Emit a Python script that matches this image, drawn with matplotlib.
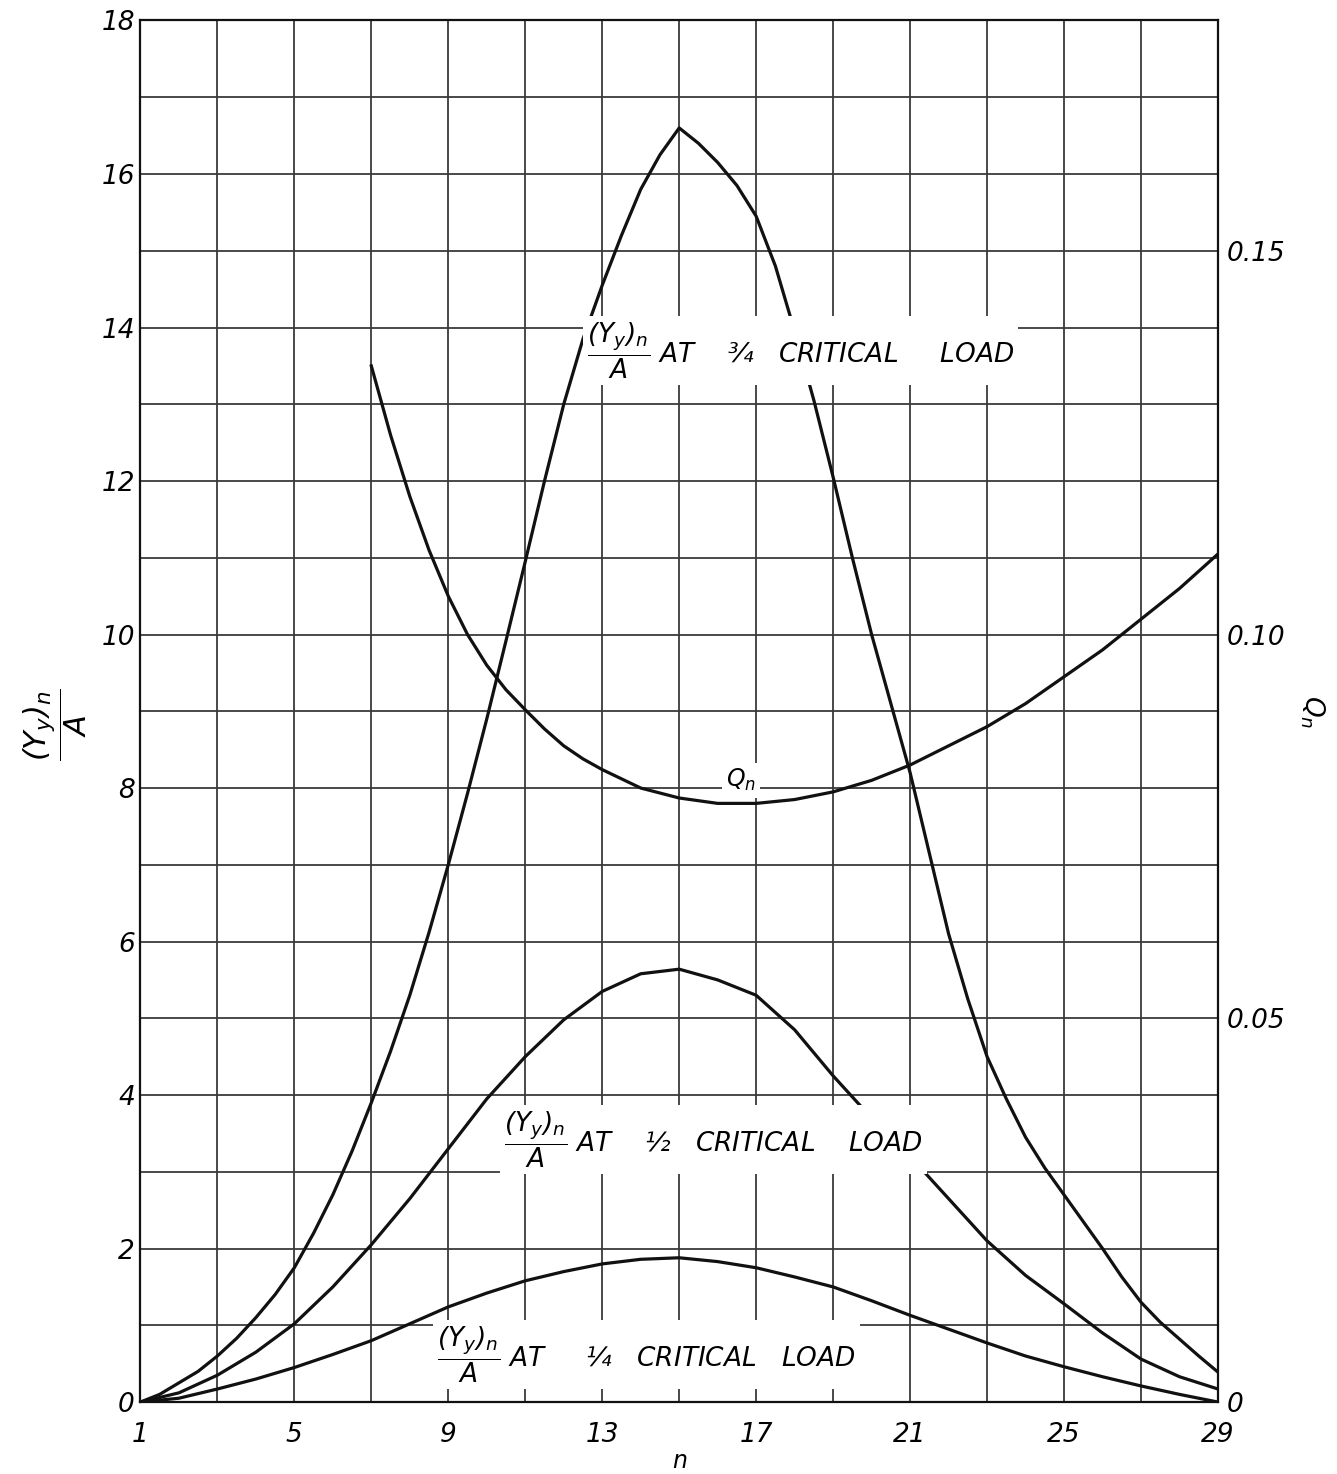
import matplotlib
matplotlib.use('Agg')
import matplotlib.pyplot as plt

# (Yy)n / A at 3/4 critical load, read at half-panel steps
n_three_quarter = [1, 1.5, 2, 2.5, 3, 3.5, 4, 4.5, 5, 5.5, 6, 6.5, 7, 7.5, 8, 8.5, 9, 9.5,
                   10, 10.5, 11, 11.5, 12, 12.5, 13, 13.5, 14, 14.5, 15, 15.5, 16, 16.5,
                   17, 17.5, 18, 18.5, 19, 19.5, 20, 20.5, 21, 21.5, 22, 22.5, 23, 23.5,
                   24, 24.5, 25, 25.5, 26, 26.5, 27, 27.5, 28, 28.5, 29]
y_three_quarter = [0, 0.1, 0.25, 0.4, 0.6, 0.83, 1.1, 1.4, 1.75, 2.2, 2.7, 3.27, 3.9, 4.57,
                   5.3, 6.12, 7.0, 7.93, 8.9, 9.92, 10.95, 12.0, 13.0, 13.85, 14.55, 15.2,
                   15.8, 16.25, 16.6, 16.4, 16.15, 15.85, 15.45, 14.8, 13.95, 13.05, 12.05,
                   11.0, 10.0, 9.1, 8.2, 7.15, 6.1, 5.25, 4.5, 3.95, 3.45, 3.05, 2.7, 2.35,
                   2.0, 1.63, 1.3, 1.04, 0.82, 0.6, 0.39]

# (Yy)n / A at 1/2 and 1/4 critical load
n_vals = list(range(1, 30))
y_half = [0, 0.12, 0.35, 0.65, 1.02, 1.5, 2.05, 2.65, 3.3, 3.95,
          4.5, 4.98, 5.35, 5.58, 5.64, 5.5, 5.3, 4.85, 4.25, 3.7,
          3.2, 2.65, 2.1, 1.65, 1.28, 0.9, 0.56, 0.33, 0.17]
y_quarter = [0, 0.05, 0.17, 0.3, 0.45, 0.62, 0.8, 1.02, 1.24, 1.42,
             1.58, 1.7, 1.8, 1.86, 1.88, 1.83, 1.75, 1.63, 1.5, 1.32,
             1.13, 0.95, 0.77, 0.6, 0.46, 0.33, 0.21, 0.1, 0]

# Qn, plotted against the right-hand scale
q_n = [7, 7.5, 8, 8.5, 9, 9.5, 10, 10.5, 11, 11.5, 12, 12.5, 13, 14, 15, 16, 17, 18,
       19, 20, 21, 22, 23, 24, 25, 26, 27, 28, 29]
q_vals = [0.135, 0.126, 0.118, 0.111, 0.105, 0.100, 0.096, 0.0928, 0.0902, 0.0877,
          0.0855, 0.0838, 0.0824, 0.080, 0.0787, 0.078, 0.078, 0.0785, 0.0795, 0.081,
          0.083, 0.0855, 0.088, 0.091, 0.0945, 0.098, 0.102, 0.106, 0.1105]

x_ticks = [1, 5, 9, 13, 17, 21, 25, 29]
y_ticks = [0, 2, 4, 6, 8, 10, 12, 14, 16, 18]
q_ticks = [0, 0.05, 0.10, 0.15]
q_tick_labels = ['0', '0.05', '0.10', '0.15']

plt.rcParams['font.family'] = 'DejaVu Sans'
plt.rcParams['font.style'] = 'italic'
plt.rcParams['mathtext.fontset'] = 'custom'
plt.rcParams['mathtext.rm'] = 'DejaVu Sans:italic'
plt.rcParams['mathtext.it'] = 'DejaVu Sans:italic'

fig = plt.figure(figsize=(13.37, 14.74), dpi=100)
ax = fig.add_axes([0.105, 0.0488, 0.806, 0.9373])

ink = '#111111'
grid_col = '#3a3a3a'

# grid: every odd n, every unit of the left scale
for xv in range(1, 30, 2):
    ax.axvline(xv, color=grid_col, lw=1.3, zorder=1)
for yv in range(0, 19):
    ax.axhline(yv, color=grid_col, lw=1.3, zorder=1)

line_kw = dict(color=ink, lw=2.3, zorder=3, solid_joinstyle='round')
ax.plot(n_three_quarter, y_three_quarter, **line_kw)
ax.plot(n_vals, y_half, **line_kw)
ax.plot(n_vals, y_quarter, **line_kw)

ax.set_xlim(1, 29)
ax.set_ylim(0, 18)
ax.set_xticks(x_ticks)
ax.set_xticklabels([str(v) for v in x_ticks])
ax.set_yticks(y_ticks)
ax.set_yticklabels([str(v) for v in y_ticks])
ax.tick_params(length=0, labelsize=19)
ax.tick_params(axis='x', pad=14)
ax.tick_params(axis='y', pad=4)
for s in ax.spines.values():
    s.set_color(ink)
    s.set_linewidth(1.6)

ax2 = ax.twinx()
ax2.plot(q_n, q_vals, **line_kw)
ax2.set_ylim(0, 0.18)
ax2.set_yticks(q_ticks)
ax2.set_yticklabels(q_tick_labels)
ax2.tick_params(length=0, labelsize=19, pad=6)
for s in ax2.spines.values():
    s.set_visible(False)

frac = r'$\dfrac{(Y_y)_n}{A}$'
box = dict(facecolor='white', edgecolor='none', pad=3)
ax.text(12.6, 13.7, frac + ' AT    ¾   CRITICAL     LOAD', fontsize=19,
        ha='left', va='center', bbox=box, zorder=5)
ax.text(10.45, 3.42, frac + ' AT    ½   CRITICAL    LOAD', fontsize=19,
        ha='left', va='center', bbox=box, zorder=5)
ax.text(8.7, 0.62, frac + ' AT     ¼   CRITICAL   LOAD', fontsize=19,
        ha='left', va='center', bbox=box, zorder=5)
ax.text(16.6, 8.1, r'$Q_n$', fontsize=17, ha='center', va='center',
        bbox=dict(facecolor='white', edgecolor='none', pad=3), zorder=5)

ax.set_xlabel('n', fontsize=17)
ax.xaxis.set_label_coords(0.5, -0.043)
ax.xaxis.label.set_va('center')
ax.set_ylabel(frac, fontsize=22)
ax.yaxis.set_label_coords(-0.079, 0.49)
ax.yaxis.label.set_va('center')
ax2.set_ylabel(r'$Q_n$', fontsize=19, rotation=-90, labelpad=30)

fig.savefig('out.png', dpi=100)
